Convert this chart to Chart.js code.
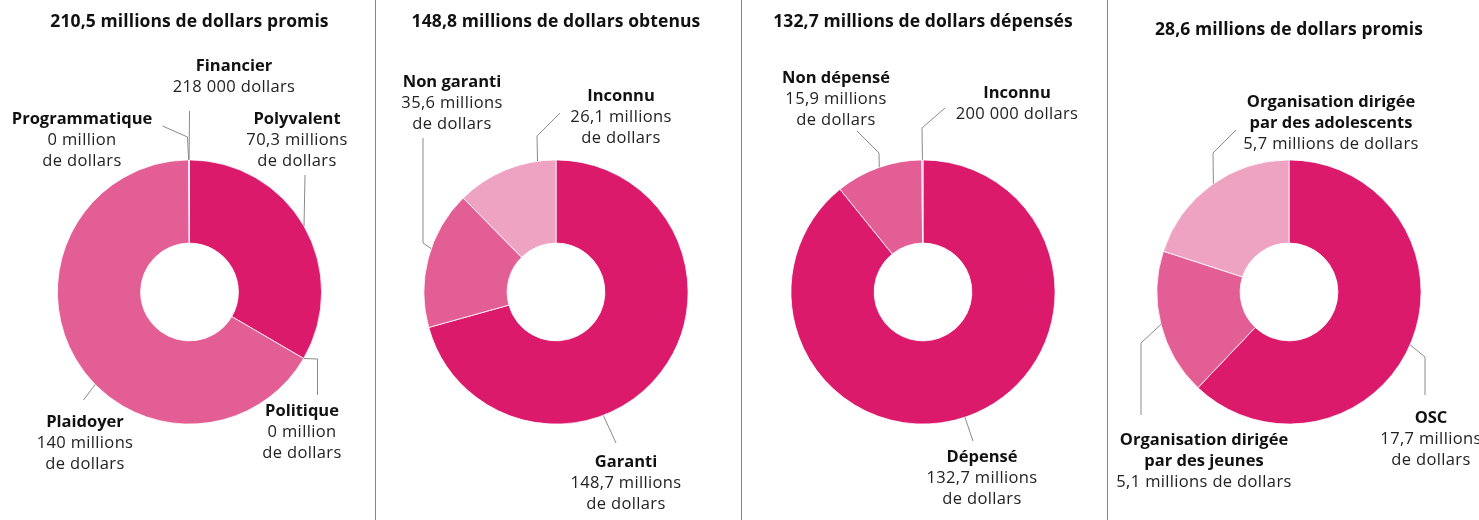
<!DOCTYPE html>
<html>
<head>
<meta charset="utf-8">
<script src="https://cdn.jsdelivr.net/npm/chart.js@4/dist/chart.umd.min.js"></script>
<style>
  html, body { margin: 0; padding: 0; background: #fff; }
  #wrap { position: relative; width: 1479px; height: 520px; overflow: hidden; }
  .panel { position: absolute; top: 0; height: 520px; }
</style>
</head>
<body>
<div id="wrap">
  <canvas id="c0" class="panel"></canvas>
  <canvas id="c1" class="panel"></canvas>
  <canvas id="c2" class="panel"></canvas>
  <canvas id="c3" class="panel"></canvas>
</div>
<script>
// --- data ---
const titles = [
  '210,5 millions de dollars promis',
  '148,8 millions de dollars obtenus',
  '132,7 millions de dollars dépensés',
  '28,6 millions de dollars promis'
];

const typeCategories = ['Polyvalent', 'Politique', 'Plaidoyer', 'Programmatique', 'Financier'];
const typeValues = [70.3, 0, 140, 0, 0.218];
const typeAmounts = ['70,3 millions\nde dollars', '0 million\nde dollars', '140 millions\nde dollars', '0 million\nde dollars', '218 000 dollars'];

const obtainedCategories = ['Garanti', 'Non garanti', 'Inconnu'];
const obtainedValues = [148.7, 35.6, 26.1];
const obtainedAmounts = ['148,7 millions\nde dollars', '35,6 millions\nde dollars', '26,1 millions\nde dollars'];

const spentCategories = ['Dépensé', 'Non dépensé', 'Inconnu'];
const spentValues = [132.7, 15.9, 0.2];
const spentAmounts = ['132,7 millions\nde dollars', '15,9 millions\nde dollars', '200 000 dollars'];

const orgCategories = ['OSC', 'Organisation dirigée\npar des jeunes', 'Organisation dirigée\npar des adolescents'];
const orgValues = [17.7, 5.1, 5.7];
const orgAmounts = ['17,7 millions\nde dollars', '5,1 millions de dollars', '5,7 millions de dollars'];

// --- styling / layout ---
const DARK = '#dc1a6b', MID = '#e35e95', LIGHT = '#efa3c2';
const SEP = '#e8509a';
const RADIUS = 132.5, CY = 292, H = 520, LINE_H = 21;
const FONT = '"Open Sans", "Noto Sans", sans-serif';

const panels = [
  { left: 0, width: 375, cx: 189.5, titleY: 22, sep: false,
    categories: typeCategories, values: typeValues, amounts: typeAmounts,
    colors: [DARK, LIGHT, MID, LIGHT, LIGHT],
    // at: where along the slice the leader starts; pts: leader points, text: label anchor (relative to centre)
    notes: [
      { at: 0.5, pts: [[115.5, -117]], text: [107.5, -173] },
      { at: 0, pts: [[128, 67], [128, 103]], text: [112.5, 119] },
      { at: 0.44, pts: [[-106, 108]], text: [-104.5, 130] },
      { at: 0.5, pts: [[-2, -155], [-27, -166]], text: [-107.5, -173] },
      { at: 0.5, pts: [[0, -181]], text: [44.5, -226] }
    ] },
  { left: 375, width: 366, cx: 181, titleY: 22, sep: true,
    categories: obtainedCategories, values: obtainedValues, amounts: obtainedAmounts,
    colors: [DARK, MID, LIGHT],
    notes: [
      { at: 0.625, pts: [[60, 151]], text: [70, 170] },
      { at: 0.57, pts: [[-133, -49], [-133, -154]], text: [-104, -210] },
      { at: 0.82, pts: [[-19, -156], [4, -179]], text: [65, -196] }
    ] },
  { left: 741, width: 366, cx: 182, titleY: 22, sep: true,
    categories: spentCategories, values: spentValues, amounts: spentAmounts,
    colors: [DARK, MID, LIGHT],
    notes: [
      { at: 0.503, pts: [[50, 149]], text: [59, 165] },
      { at: 0.51, pts: [[-44, -139], [-66, -161]], text: [-87, -214] },
      { at: 0.5, pts: [[-1, -164], [22, -184]], text: [94, -199] }
    ] },
  { left: 1107, width: 372, cx: 182, titleY: 30, sep: true,
    categories: orgCategories, values: orgValues, amounts: orgAmounts,
    colors: [DARK, MID, LIGHT],
    notes: [
      { at: 0.508, pts: [[136, 65], [136, 103]], text: [142, 126] },
      { at: 0.5, pts: [[-148, 51], [-148, 123]], text: [-85, 148] },
      { at: 0.515, pts: [[-76, -139], [-53, -162]], text: [42, -190] }
    ] }
];

const leaderPlugin = {
  id: 'leaders',
  afterDraw(chart) {
    const p = chart.options.plugins.leaders.panel;
    const ctx = chart.ctx;
    const arcs = chart.getDatasetMeta(0).data;
    const cx = arcs[0].x, cy = arcs[0].y;
    ctx.save();
    if (p.sep) {
      ctx.fillStyle = SEP;
      ctx.fillRect(0, 0, 1, H);
    }
    ctx.textAlign = 'center';
    ctx.textBaseline = 'middle';
    ctx.fillStyle = '#111';
    ctx.letterSpacing = '0.1px';
    ctx.font = `700 17.5px ${FONT}`;
    ctx.fillText(titles[chart.options.plugins.leaders.index], cx, p.titleY);

    p.notes.forEach((n, i) => {
      const arc = arcs[i];
      const a = arc.startAngle + n.at * (arc.endAngle - arc.startAngle);
      ctx.strokeStyle = '#8a8a8a';
      ctx.lineWidth = 1;
      ctx.beginPath();
      ctx.moveTo(cx + Math.cos(a) * arc.outerRadius, cy + Math.sin(a) * arc.outerRadius);
      n.pts.forEach(pt => ctx.lineTo(cx + pt[0], cy + pt[1]));
      ctx.stroke();

      let y = cy + n.text[1];
      const x = cx + n.text[0];
      ctx.fillStyle = '#111';
      ctx.letterSpacing = '0px';
      ctx.font = `700 16.5px ${FONT}`;
      p.categories[i].split('\n').forEach(line => { ctx.fillText(line, x, y); y += LINE_H; });
      ctx.fillStyle = '#222';
      ctx.letterSpacing = '0.35px';
      ctx.font = `16.5px ${FONT}`;
      p.amounts[i].split('\n').forEach(line => { ctx.fillText(line, x, y); y += LINE_H; });
    });
    ctx.restore();
  }
};

panels.forEach((p, idx) => {
  const canvas = document.getElementById('c' + idx);
  canvas.width = p.width;
  canvas.height = H;
  canvas.style.left = p.left + 'px';
  canvas.style.width = p.width + 'px';
  canvas.style.height = H + 'px';

  new Chart(canvas, {
    type: 'doughnut',
    data: {
      labels: p.categories,
      datasets: [{
        data: p.values,
        backgroundColor: p.colors,
        borderColor: '#ffffff',
        borderWidth: 0.8
      }]
    },
    options: {
      responsive: false,
      animation: false,
      events: [],
      cutout: '37%',
      layout: {
        padding: {
          top: CY - RADIUS,
          bottom: H - CY - RADIUS,
          left: p.cx - RADIUS,
          right: p.width - p.cx - RADIUS
        }
      },
      plugins: {
        legend: { display: false },
        tooltip: { enabled: false },
        leaders: { panel: p, index: idx }
      }
    },
    plugins: [leaderPlugin]
  });
});
</script>
</body>
</html>
